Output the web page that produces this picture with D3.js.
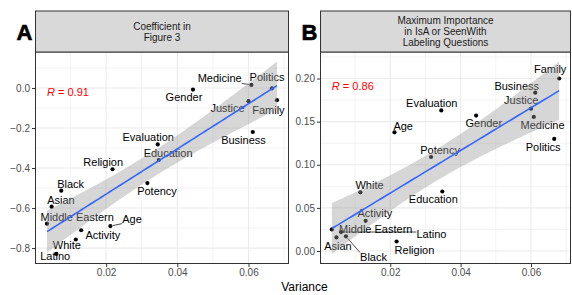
<!DOCTYPE html>
<html>
<head>
<meta charset="utf-8">
<script src="https://cdn.jsdelivr.net/npm/d3@7"></script>
<style>
body { margin: 0; background: #fff; }
svg text { font-family: "Liberation Sans", Arial, Helvetica, sans-serif; }
</style>
</head>
<body>
<svg id="fig" width="572" height="295"></svg>
<script>

// values
var categories = ["Medicine", "Politics", "Gender", "Justice", "Family", "Business", "Evaluation",
  "Education", "Religion", "Black", "Potency", "Asian", "Middle Eastern", "Age", "Activity", "White", "Latino"];
var variance = [0.0608, 0.0666, 0.0444, 0.0600, 0.0680, 0.0612, 0.0345,
  0.0348, 0.0218, 0.0074, 0.0316, 0.0047, 0.0034, 0.0212, 0.0130, 0.0115, 0.0060];
var coefficient = [0.015, -0.002, -0.008, -0.066, -0.061, -0.220, -0.282,
  -0.360, -0.406, -0.513, -0.475, -0.593, -0.678, -0.690, -0.711, -0.757, -0.829];
var maxImportance = [0.1555, 0.130, 0.157, 0.165, 0.200, 0.1836, 0.163,
  0.069, 0.011, 0.017, 0.109, 0.0157, 0.025, 0.1376, 0.035, 0.068, 0.022];

var xTicks = [0.02, 0.04, 0.06];
var xTickLabels = ["0.02", "0.04", "0.06"];
var yTicksA = [0, -0.2, -0.4, -0.6, -0.8];
var yTickLabelsA = ["0.0", "\u22120.2", "\u22120.4", "\u22120.6", "\u22120.8"];
var yTicksB = [0, 0.05, 0.10, 0.15, 0.20];
var yTickLabelsB = ["0.00", "0.05", "0.10", "0.15", "0.20"];
var rValues = ["0.91", "0.86"];
var stripTitles = [["Coefficient in", "Figure 3"], ["Maximum Importance", "in IsA or SeenWith", "Labeling Questions"]];
var xTitle = "Variance";

// label placement (px offset of label centre from its point), like ggrepel gave
var offsetsA = {
  "Medicine": [-31.7, -6.6, 1], "Politics": [-5, -11], "Gender": [-9, 7.7], "Justice": [-21, 6.6],
  "Family": [-8.6, 9.6], "Business": [-9.3, 8.3], "Evaluation": [-9.5, -7], "Education": [9.3, -6.7],
  "Religion": [-9.3, -7.6], "Black": [9.4, -7], "Potency": [9.6, 8.4], "Asian": [9.3, -7],
  "Middle Eastern": [30.2, -7], "Age": [21.6, -7.4, 1], "Activity": [21.7, 4.3], "White": [-9, 5.7],
  "Latino": [-1, 2.6]
};
var offsetsB = {
  "Family": [-9, -9], "Business": [-18.5, -7], "Justice": [-9.8, -8.3], "Medicine": [8.8, 8.3],
  "Politics": [-11, 8.3], "Evaluation": [-9.5, -7], "Gender": [7.7, 7.6], "Age": [8.7, -6.6],
  "Potency": [9, -7.3], "White": [9.2, -7], "Education": [-9, 8], "Activity": [9.3, -7.3],
  "Middle Eastern": [43.9, -0.7], "Latino": [90.4, 2.3, 1], "Asian": [1.5, 8.4],
  "Black": [27.6, 20.3, 1], "Religion": [17.9, 8.4]
};

var panels = [
  { letter: "A", ys: coefficient, ticks: yTicksA, tickLabels: yTickLabelsA, r: rValues[0],
    title: stripTitles[0], left: 35.5, right: 288.5, offsets: offsetsA },
  { letter: "B", ys: maxImportance, ticks: yTicksB, tickLabels: yTickLabelsB, r: rValues[1],
    title: stripTitles[1], left: 320.5, right: 570.5, offsets: offsetsB }
];
var stripTop = 11, plotTop = 52, plotBottom = 263.5;

var svg = d3.select("#fig");

// linear fit with 95% band, as geom_smooth(method = "lm")
function lmFit(xs, ys) {
  var n = xs.length, mx = d3.mean(xs), my = d3.mean(ys);
  var sxx = d3.sum(xs, x => (x - mx) * (x - mx));
  var sxy = d3.sum(xs, (x, i) => (x - mx) * (ys[i] - my));
  var b = sxy / sxx, a = my - b * mx;
  var s = Math.sqrt(d3.sum(xs, (x, i) => Math.pow(ys[i] - a - b * x, 2)) / (n - 2));
  var t = 2.131; // qt(0.975, 15)
  var x0 = d3.min(xs), x1 = d3.max(xs);
  return d3.range(81).map(function(k) {
    var x = x0 + (x1 - x0) * k / 80;
    var se = s * Math.sqrt(1 / n + (x - mx) * (x - mx) / sxx);
    var y = a + b * x;
    return { x: x, y: y, lo: y - t * se, hi: y + t * se };
  });
}

function expand(ext) {
  var d = (ext[1] - ext[0]) * 0.05;
  return [ext[0] - d, ext[1] + d];
}

panels.forEach(function(p) {
  var pts = categories.map((c, i) => ({ name: c, x: variance[i], y: p.ys[i] }));
  var fit = lmFit(variance, p.ys);

  var x = d3.scaleLinear().domain(expand(d3.extent(variance))).range([p.left, p.right]);
  var yExt = d3.extent(p.ys.concat(fit.map(d => d.lo), fit.map(d => d.hi)));
  var y = d3.scaleLinear().domain(expand(yExt)).range([plotBottom, plotTop]);

  var g = svg.append("g");

  // grid
  var yStep = Math.abs(p.ticks[1] - p.ticks[0]);
  var yMinor = [];
  for (var v = d3.min(p.ticks) - yStep / 2; v < y.domain()[1]; v += yStep) {
    if (v > y.domain()[0]) yMinor.push(v);
  }
  var xMinor = [];
  for (var v2 = 0.01; v2 < x.domain()[1]; v2 += 0.02) xMinor.push(v2);

  g.selectAll(".ymin").data(yMinor).enter().append("line")
    .attr("x1", p.left).attr("x2", p.right)
    .attr("y1", d => y(d)).attr("y2", d => y(d))
    .attr("stroke", "#EBEBEB").attr("stroke-width", 0.6);
  g.selectAll(".xmin").data(xMinor).enter().append("line")
    .attr("y1", plotTop).attr("y2", plotBottom)
    .attr("x1", d => x(d)).attr("x2", d => x(d))
    .attr("stroke", "#EBEBEB").attr("stroke-width", 0.6);
  g.selectAll(".ymaj").data(p.ticks).enter().append("line")
    .attr("x1", p.left).attr("x2", p.right)
    .attr("y1", d => y(d)).attr("y2", d => y(d))
    .attr("stroke", "#EBEBEB").attr("stroke-width", 1.1);
  g.selectAll(".xmaj").data(xTicks).enter().append("line")
    .attr("y1", plotTop).attr("y2", plotBottom)
    .attr("x1", d => x(d)).attr("x2", d => x(d))
    .attr("stroke", "#EBEBEB").attr("stroke-width", 1.1);

  // points
  g.selectAll(".pt").data(pts).enter().append("circle")
    .attr("cx", d => x(d.x)).attr("cy", d => y(d.y)).attr("r", 2.1)
    .attr("fill", "#000");

  // labels
  var labels = g.selectAll(".lab").data(pts).enter().append("text")
    .attr("x", d => x(d.x) + p.offsets[d.name][0])
    .attr("y", d => y(d.y) + p.offsets[d.name][1])
    .attr("dy", "0.36em")
    .attr("text-anchor", "middle")
    .attr("font-size", 11)
    .attr("fill", "#000")
    .text(d => d.name);

  labels.each(function(d) {
    if (!p.offsets[d.name][2]) return;
    var bb = this.getBBox();
    var px = x(d.x), py = y(d.y);
    var bx0 = bb.x, bx1 = bb.x + bb.width, by0 = bb.y + 2, by1 = bb.y + bb.height - 1;
    var ex = Math.max(bx0, Math.min(px, bx1)), ey = Math.max(by0, Math.min(py, by1));
    var len = Math.hypot(ex - px, ey - py);
    var sx = px + (ex - px) * 2.5 / len, sy = py + (ey - py) * 2.5 / len;
    g.append("line")
      .attr("x1", sx).attr("y1", sy).attr("x2", ex).attr("y2", ey)
      .attr("stroke", "#000").attr("stroke-width", 0.7);
  });

  // band and fitted line
  g.append("path").datum(fit)
    .attr("d", d3.area().x(d => x(d.x)).y0(d => y(d.lo)).y1(d => y(d.hi)))
    .attr("fill", "#999999").attr("fill-opacity", 0.4);
  g.append("path").datum(fit)
    .attr("d", d3.line().x(d => x(d.x)).y(d => y(d.y)))
    .attr("fill", "none").attr("stroke", "#3366FF").attr("stroke-width", 1.6);

  // R label
  var rt = g.append("text")
    .attr("x", x(d3.min(variance)))
    .attr("y", y(d3.max(p.ys)) + 11.5)
    .attr("font-size", 11).attr("fill", "#FF0000");
  rt.append("tspan").attr("font-style", "italic").text("R");
  rt.append("tspan").text(" = " + p.r);

  // border
  g.append("rect")
    .attr("x", p.left).attr("y", plotTop)
    .attr("width", p.right - p.left).attr("height", plotBottom - plotTop)
    .attr("fill", "none").attr("stroke", "#333333").attr("stroke-width", 1);

  // strip
  g.append("rect")
    .attr("x", p.left).attr("y", stripTop)
    .attr("width", p.right - p.left).attr("height", plotTop - stripTop)
    .attr("fill", "#D9D9D9").attr("stroke", "#333333").attr("stroke-width", 1);
  var n = p.title.length, cy = (stripTop + plotTop) / 2;
  g.selectAll(".st").data(p.title).enter().append("text")
    .attr("x", (p.left + p.right) / 2)
    .attr("y", (d, i) => cy + (i - (n - 1) / 2) * 10.8)
    .attr("dy", "0.36em")
    .attr("text-anchor", "middle")
    .attr("font-size", 10).attr("fill", "#1A1A1A")
    .text(d => d);

  // axes
  var yAxis = g.append("g").attr("transform", "translate(" + p.left + ",0)")
    .call(d3.axisLeft(y).tickValues(p.ticks).tickFormat((d, i) => p.tickLabels[i])
      .tickSizeOuter(0).tickSize(3.5).tickPadding(2));
  var xAxis = g.append("g").attr("transform", "translate(0," + plotBottom + ")")
    .call(d3.axisBottom(x).tickValues(xTicks).tickFormat((d, i) => xTickLabels[i])
      .tickSizeOuter(0).tickSize(3.5).tickPadding(2));
  [yAxis, xAxis].forEach(function(ax) {
    ax.select(".domain").remove();
    ax.selectAll(".tick line").attr("stroke", "#333333");
    ax.selectAll(".tick text").attr("fill", "#4D4D4D").attr("font-size", 10)
      .attr("font-family", "Liberation Sans, Arial, sans-serif");
  });

  // panel letter
  g.append("text")
    .attr("x", p.left - 3).attr("y", 40)
    .attr("text-anchor", "end")
    .attr("font-size", 22).attr("font-weight", "bold").attr("fill", "#000")
    .attr("stroke", "#000").attr("stroke-width", 0.6)
    .text(p.letter);
});

svg.append("text")
  .attr("x", 304.5).attr("y", 290.5)
  .attr("text-anchor", "middle")
  .attr("font-size", 12).attr("fill", "#000")
  .text(xTitle);

</script>
</body>
</html>
